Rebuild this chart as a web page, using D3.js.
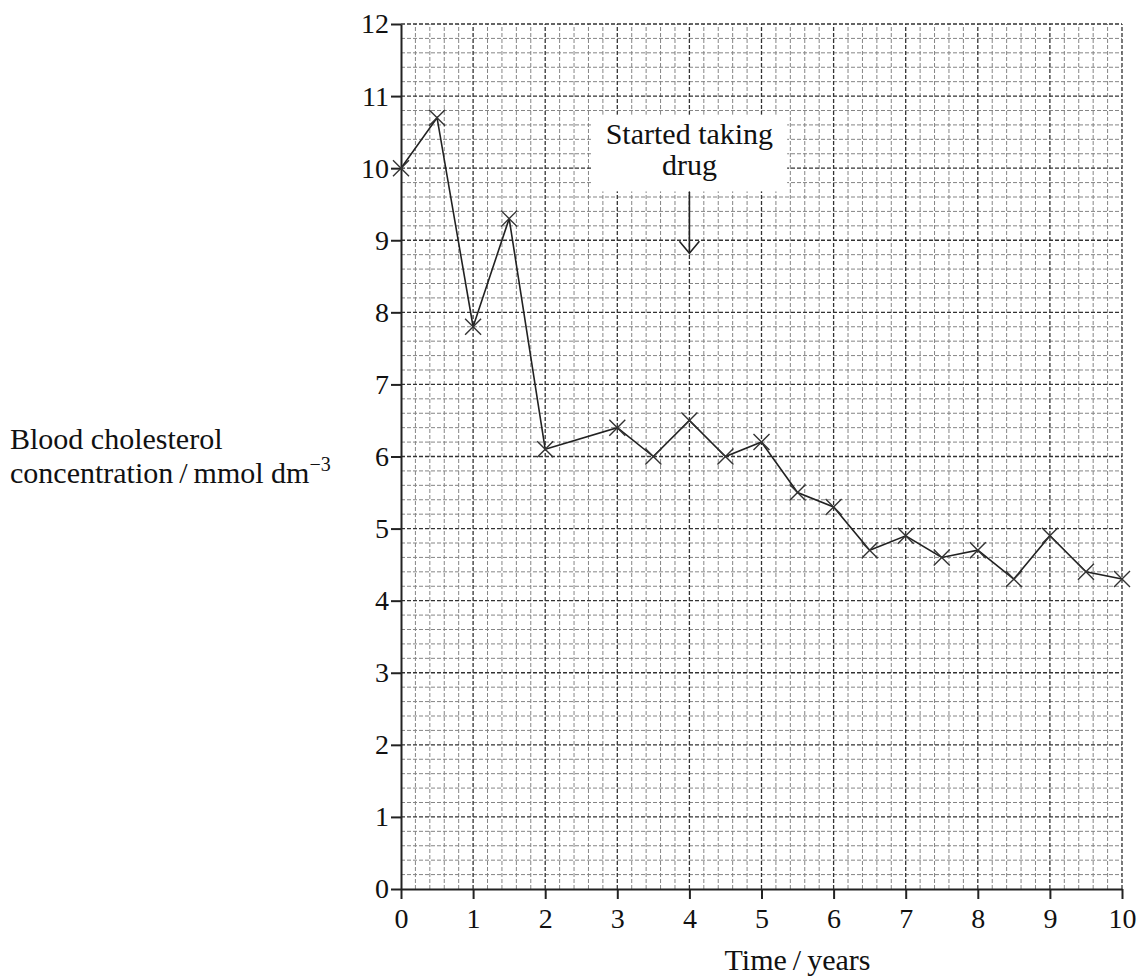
<!DOCTYPE html>
<html>
<head>
<meta charset="utf-8">
<script src="https://cdn.jsdelivr.net/npm/d3@7"></script>
<style>
  body { margin: 0; background: #fff; }
  text { font-family: "Liberation Serif", "Times New Roman", Times, serif; fill: #111; }
</style>
</head>
<body>
<div id="chart"></div>
<script>
// data
var years = [0, 0.5, 1, 1.5, 2, 3, 3.5, 4, 4.5, 5, 5.5, 6, 6.5, 7, 7.5, 8, 8.5, 9, 9.5, 10];
var cholesterol = [10.0, 10.7, 7.8, 9.3, 6.1, 6.4, 6.0, 6.5, 6.0, 6.2, 5.5, 5.3, 4.7, 4.9, 4.6, 4.7, 4.3, 4.9, 4.4, 4.3];
var xTicks = [0, 1, 2, 3, 4, 5, 6, 7, 8, 9, 10];
var yTicks = [0, 1, 2, 3, 4, 5, 6, 7, 8, 9, 10, 11, 12];
var drugYear = 4;

var width = 1147, height = 978;
var margin = {left: 401, right: 25, top: 24, bottom: 89};

var svg = d3.select("#chart").append("svg")
  .attr("width", width)
  .attr("height", height);

var x = d3.scaleLinear().domain([0, 10]).range([margin.left, width - margin.right]);
var y = d3.scaleLinear().domain([0, 12]).range([height - margin.bottom, margin.top]);

// graph paper grid, 0.2 minor squares and unit lines
var grid = svg.append("g").attr("class", "grid");
var minorX = d3.range(0, 50).map(function(i) { return i / 5; }).filter(function(v) { return v % 1 !== 0; });
var minorY = d3.range(0, 60).map(function(i) { return i / 5; }).filter(function(v) { return v % 1 !== 0; });

grid.selectAll("line.mx").data(minorX).enter().append("line")
  .attr("x1", function(d) { return x(d); }).attr("x2", function(d) { return x(d); })
  .attr("y1", y(0)).attr("y2", y(12))
  .attr("stroke", "#858585").attr("stroke-width", 1).attr("stroke-dasharray", "4,2");
grid.selectAll("line.my").data(minorY).enter().append("line")
  .attr("x1", x(0)).attr("x2", x(10))
  .attr("y1", function(d) { return y(d); }).attr("y2", function(d) { return y(d); })
  .attr("stroke", "#858585").attr("stroke-width", 1).attr("stroke-dasharray", "4,2");
grid.selectAll("line.Mx").data(xTicks.slice(1)).enter().append("line")
  .attr("x1", function(d) { return x(d); }).attr("x2", function(d) { return x(d); })
  .attr("y1", y(0)).attr("y2", y(12))
  .attr("stroke", "#333").attr("stroke-width", 1.3).attr("stroke-dasharray", "4,2");
grid.selectAll("line.My").data(yTicks.slice(1)).enter().append("line")
  .attr("x1", x(0)).attr("x2", x(10))
  .attr("y1", function(d) { return y(d); }).attr("y2", function(d) { return y(d); })
  .attr("stroke", "#333").attr("stroke-width", 1.3).attr("stroke-dasharray", "4,2");

// axes
var xAxis = svg.append("g")
  .attr("transform", "translate(0," + y(0) + ")")
  .call(d3.axisBottom(x).tickValues(xTicks).tickSize(10).tickPadding(9).tickSizeOuter(0));
var yAxis = svg.append("g")
  .attr("transform", "translate(" + x(0) + ",0)")
  .call(d3.axisLeft(y).tickValues(yTicks).tickSize(10).tickPadding(2).tickSizeOuter(0));

[xAxis, yAxis].forEach(function(a) {
  a.attr("font-family", null);
  a.select(".domain").attr("stroke", "#222").attr("stroke-width", 2);
  a.selectAll(".tick line").attr("stroke", "#222").attr("stroke-width", 2);
  a.selectAll(".tick text").attr("font-size", "28px").attr("fill", "#111");
});

// data line
var line = d3.line()
  .x(function(d) { return x(d[0]); })
  .y(function(d) { return y(d[1]); });
var points = years.map(function(t, i) { return [t, cholesterol[i]]; });

svg.append("path")
  .datum(points)
  .attr("d", line)
  .attr("fill", "none")
  .attr("stroke", "#222")
  .attr("stroke-width", 1.6);

// cross markers
var s = 8;
svg.append("g").selectAll("path.cross").data(points).enter().append("path")
  .attr("d", function(d) {
    var cx = x(d[0]), cy = y(d[1]);
    return "M" + (cx - s) + "," + (cy - s) + "L" + (cx + s) + "," + (cy + s) +
      "M" + (cx - s) + "," + (cy + s) + "L" + (cx + s) + "," + (cy - s);
  })
  .attr("stroke", "#333")
  .attr("stroke-width", 1.4)
  .attr("fill", "none");

// annotation
var note = svg.append("g");
var noteText = note.append("text")
  .attr("text-anchor", "middle")
  .attr("font-size", "30px");
noteText.append("tspan").attr("x", x(drugYear)).attr("y", y(10.34)).text("Started taking");
noteText.append("tspan").attr("x", x(drugYear)).attr("y", y(9.9)).text("drug");
var bb = noteText.node().getBBox();
note.insert("rect", "text")
  .attr("x", bb.x - 14).attr("y", bb.y - 2)
  .attr("width", bb.width + 28).attr("height", bb.height + 12)
  .attr("fill", "#fff");

var arrowTop = y(9.67), arrowTip = y(8.82);
note.append("line")
  .attr("x1", x(drugYear)).attr("x2", x(drugYear))
  .attr("y1", arrowTop).attr("y2", arrowTip)
  .attr("stroke", "#222").attr("stroke-width", 1.6);
note.append("path")
  .attr("d", "M" + (x(drugYear) - 10) + "," + (arrowTip - 12) + "L" + x(drugYear) + "," + arrowTip +
    "L" + (x(drugYear) + 10) + "," + (arrowTip - 12))
  .attr("fill", "none").attr("stroke", "#222").attr("stroke-width", 1.6);

// axis titles
var yt = svg.append("text").attr("font-size", "30px");
yt.append("tspan").attr("x", 10).attr("y", 449).text("Blood cholesterol");
yt.append("tspan").attr("x", 10).attr("y", 483).text("concentration\u2009/\u2009mmol dm");
yt.append("tspan").attr("dy", -12).attr("font-size", "20px").text("\u22123");

svg.append("text")
  .attr("x", x(5.5)).attr("y", 970)
  .attr("text-anchor", "middle")
  .attr("font-size", "30px")
  .text("Time\u2009/\u2009years");
</script>
</body>
</html>
